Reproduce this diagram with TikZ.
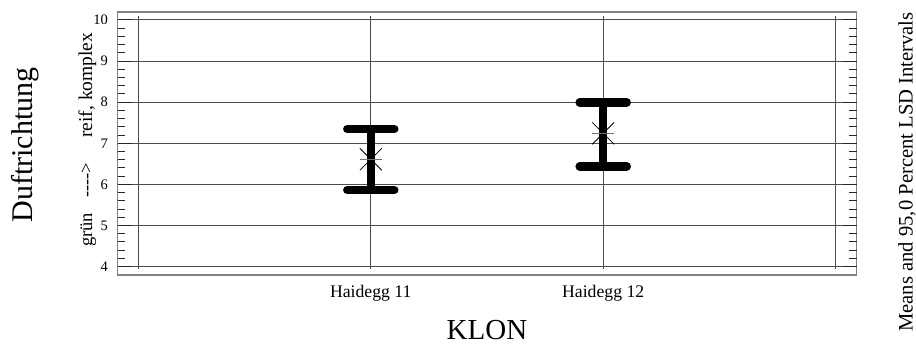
\documentclass[tikz,border=0pt]{standalone}
\usepackage{fontspec}
\setmainfont{Liberation Serif}
\begin{document}
\begin{tikzpicture}[x=1pt,y=-1pt,
  frameline/.style={draw=black!50,line width=1.5pt},
  gridline/.style={draw=black!70,line width=1pt},
  tickline/.style={draw=black!85,line width=1pt},
  ebar/.style={line width=8.5pt,line cap=round},
  evert/.style={line width=8pt},
  ticklab/.style={inner sep=0pt,anchor=east,font=\fontsize{14.5}{16}\selectfont},
  rotlab/.style={inner sep=0pt,rotate=90}
]
\useasboundingbox (0,0) rectangle (916,344);
% frame
\draw[frameline] (117.7,12) rectangle (856.7,275);
% horizontal grid lines and tick labels
\foreach \v in {4,...,10}{
  \pgfmathsetmacro{\yy}{20+(10-\v)*41.11}
  \draw[gridline] (117.7,\yy) -- (856.7,\yy);
  \draw[tickline] (117.7,\yy) -- (131.7,\yy);
  \draw[tickline] (842.7,\yy) -- (856.7,\yy);
  \node[ticklab] (t\v) at (108,\yy) {\v};
}
% minor ticks
\foreach \k in {1,...,29}{
  \pgfmathsetmacro{\yy}{20+\k*41.11/5}
  \draw[tickline] (117.7,\yy) -- (125.2,\yy);
  \draw[tickline] (849.2,\yy) -- (856.7,\yy);
}
% vertical grid lines
\foreach \xx in {138.7,370.8,603.2,835.8}{
  \draw[gridline] (\xx,16) -- (\xx,269.3);
}
% error bars
\coordinate (a1) at (370.8,129);
\coordinate (a2) at (370.8,190);
\coordinate (b1) at (603.2,102.3);
\coordinate (b2) at (603.2,166.3);
\draw[evert] (a1) -- (a2);
\draw[ebar] ([xshift=-23.5pt]a1) -- ([xshift=23.5pt]a1);
\draw[ebar] ([xshift=-23.5pt]a2) -- ([xshift=23.5pt]a2);
\draw[evert] (b1) -- (b2);
\draw[ebar] ([xshift=-23.5pt]b1) -- ([xshift=23.5pt]b1);
\draw[ebar] ([xshift=-23.5pt]b2) -- ([xshift=23.5pt]b2);
% mean markers
\foreach \mx/\my in {370.8/159.3,603.2/133.3}{
  \draw[black,line width=0.8pt] (\mx-11,\my-11) -- (\mx+11,\my+11);
  \draw[black,line width=0.8pt] (\mx-11,\my+11) -- (\mx+11,\my-11);
  \draw[black!55,line width=1.2pt] (\mx-11,\my) -- (\mx+11,\my);
}
% labels
\node[inner sep=0pt,anchor=base,font=\fontsize{17.7}{20}\selectfont] (h11) at (370.8,297.7) {Haidegg 11};
\node[inner sep=0pt,anchor=base,font=\fontsize{17.7}{20}\selectfont] (h12) at (603.2,297.7) {Haidegg 12};
\node[inner sep=0pt,anchor=base,font=\fontsize{29}{32}\selectfont] (klon) at (487,339.5) {KLON};
\node[rotlab,anchor=base,font=\fontsize{30}{34}\selectfont] (duft) at (32.5,145) {Duftrichtung};
\node[rotlab,anchor=base west,font=\fontsize{18.5}{20}\selectfont] (gruen) at (92,247) {grün};
\node[rotlab,anchor=base west,font=\fontsize{18.5}{20}\selectfont] (arr) at (92,198) {-\kern0pt-\kern0pt-\kern0pt-\kern0pt>};
\node[rotlab,anchor=base west,font=\fontsize{19.5}{22}\selectfont] (reif) at (92,138) {reif, komplex};
\node[rotlab,anchor=base,font=\fontsize{20.6}{24}\selectfont] (means) at (912.5,172) {Means and 95,0 Percent LSD Intervals};
\end{tikzpicture}
\end{document}
